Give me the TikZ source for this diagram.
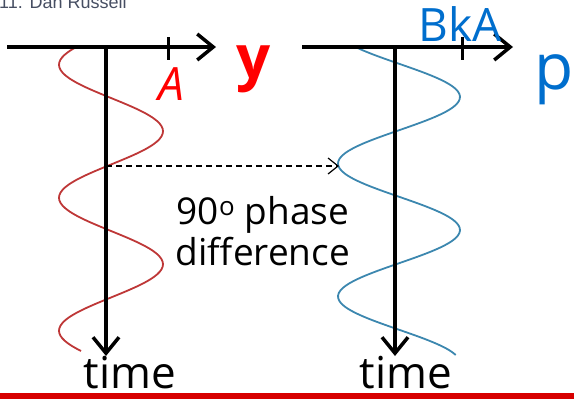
\documentclass[tikz,border=0pt]{standalone}
\usepackage{fontspec}
\setmainfont{Open Sans}
\newfontfamily\creditfont{Liberation Sans}
\usetikzlibrary{arrows.meta}
\definecolor{wavered}{RGB}{190,55,55}
\definecolor{waveblue}{RGB}{60,135,175}
\definecolor{labelred}{RGB}{255,0,0}
\definecolor{labelblue}{RGB}{0,110,205}
\definecolor{barred}{RGB}{215,0,0}
\definecolor{creditgray}{RGB}{70,78,98}
\begin{document}
\begin{tikzpicture}[x=1pt, y=-1pt,
    axis/.style={line width=3.5pt, -{Straight Barb[length=16pt, width=26pt]}},
    tick/.style={line width=3pt},
    wave/.style={line width=1.8pt, smooth},
    phasearrow/.style={line width=1.2pt, dash pattern=on 6pt off 4pt, -{Straight Barb[length=10pt, width=16pt, line width=1.2pt]}},
    redlabel/.style={text=labelred, inner sep=0pt},
    bluelabel/.style={text=labelblue, inner sep=0pt},
    timelabel/.style={font=\fontsize{44}{48}\selectfont, inner sep=0pt}]
    \useasboundingbox (0,0) rectangle (574,399);
    \clip (0,0) rectangle (574,399);

    % Credit line (cut off at the top)
    \node[anchor=base west, text=creditgray, inner sep=0pt, font=\fontsize{18}{20}\creditfont] (credit) at (-1,8) {11. Dan Russell};

    % Waves
    \draw[wave, wavered] plot[domain=47:351, samples=120] ({111+52*sin(2.707*(\x-98))}, \x);
    \draw[wave, waveblue] plot[domain=47:355, samples=120] ({399+61*cos(2.707*(\x-97))}, \x);

    % Axes of y
    \coordinate (yleft) at (7,47);
    \coordinate (yright) at (216,47);
    \coordinate (ytop) at (106,47);
    \coordinate (ybottom) at (106,356);
    \draw[axis] (yleft) -- (yright);
    \draw[axis] (ytop) -- (ybottom);
    \draw[tick] (168,37) -- (168,60);

    % Axes of p
    \coordinate (pleft) at (302,47);
    \coordinate (pright) at (513,47);
    \coordinate (ptop) at (395,47);
    \coordinate (pbottom) at (395,356);
    \draw[axis] (pleft) -- (pright);
    \draw[axis] (ptop) -- (pbottom);
    \draw[tick] (462,37) -- (462,60);

    % Phase difference
    \coordinate (ycross) at (106,166);
    \coordinate (pturn) at (339,166);
    \draw[phasearrow] (ycross) -- (pturn);
    \node[align=center, inner sep=0pt, font=\fontsize{37}{41}\selectfont] (phase) at (263,231) {90\textsuperscript{o} phase\\difference};

    % Labels
    \node[redlabel, font=\fontsize{46}{50}\selectfont\itshape] (alabel) at (171,84) {A};
    \node[redlabel, font=\fontsize{60}{64}\selectfont\bfseries] (ylabel) at (254,69) {y};
    \node[bluelabel, font=\fontsize{46}{50}\selectfont] (bkalabel) at (460,24) {BkA};
    \node[bluelabel, font=\fontsize{64}{68}\selectfont] (plabel) at (554,80) {p};
    \node[timelabel] (ytime) at (130,373) {time};
    \node[timelabel] (ptime) at (406,373) {time};

    % Bar at the bottom
    \fill[barred] (0,393) rectangle (574,399);
\end{tikzpicture}
\end{document}
